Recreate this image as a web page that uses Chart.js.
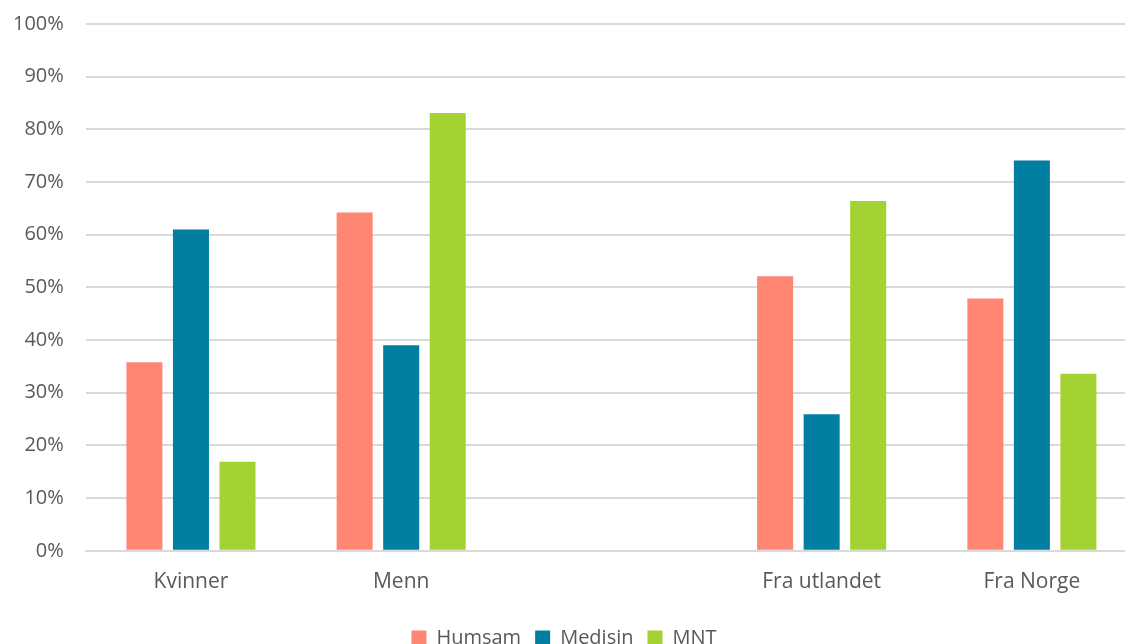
<!DOCTYPE html>
<html>
<head>
<meta charset="utf-8">
<script src="https://cdn.jsdelivr.net/npm/chart.js@4/dist/chart.umd.min.js"></script>
<style>
    html, body { margin: 0; padding: 0; background: #fff; overflow: hidden; }
    #wrap { position: relative; width: 1177px; height: 668px; margin-top: -10px; margin-left: -9px; }
</style>
</head>
<body>
<div id="wrap"><canvas id="chart"></canvas></div>
<script>
// Kategorier (tom kategori i midten gir mellomrommet)
const categories = ['Kvinner', 'Menn', '', 'Fra utlandet', 'Fra Norge'];

// Andeler i prosent
const humsam  = [35.8, 64.2, null, 52.1, 47.9];
const medisin = [61.0, 39.0, null, 25.9, 74.1];
const mnt     = [16.9, 83.1, null, 66.4, 33.6];

const colors = {
    humsam: '#FF8673',
    medisin: '#007FA3',
    mnt: '#A5D233',
    text: '#595959',
    grid: '#D9D9D9'
};

const fontFamily = '"Open Sans", "Noto Sans", sans-serif';

const ctx = document.getElementById('chart').getContext('2d');
new Chart(ctx, {
    type: 'bar',
    data: {
        labels: categories,
        datasets: [
            { label: 'Humsam', data: humsam, backgroundColor: colors.humsam },
            { label: 'Medisin', data: medisin, backgroundColor: colors.medisin },
            { label: 'MNT', data: mnt, backgroundColor: colors.mnt }
        ]
    },
    options: {
        responsive: true,
        maintainAspectRatio: false,
        animation: false,
        categoryPercentage: 0.664,
        barPercentage: 0.774,
        layout: {
            padding: { top: 1, left: 0, right: 31, bottom: 0 }
        },
        plugins: {
            tooltip: { enabled: false },
            legend: {
                position: 'bottom',
                labels: {
                    boxWidth: 15,
                    boxHeight: 15,
                    padding: 14,
                    color: colors.text,
                    font: { family: fontFamily, size: 20 }
                }
            }
        },
        scales: {
            x: {
                grid: { display: false, drawTicks: false },
                border: { display: true, color: colors.grid, width: 2 },
                ticks: {
                    color: colors.text,
                    padding: 19,
                    font: { family: fontFamily, size: 21 }
                }
            },
            y: {
                min: 0,
                max: 100,
                grid: { color: colors.grid, lineWidth: 2, drawTicks: false },
                border: { display: false },
                ticks: {
                    stepSize: 10,
                    color: colors.text,
                    padding: 22,
                    font: { family: fontFamily, size: 20 },
                    callback: v => v + '%'
                }
            }
        }
    }
});
</script>
</body>
</html>
